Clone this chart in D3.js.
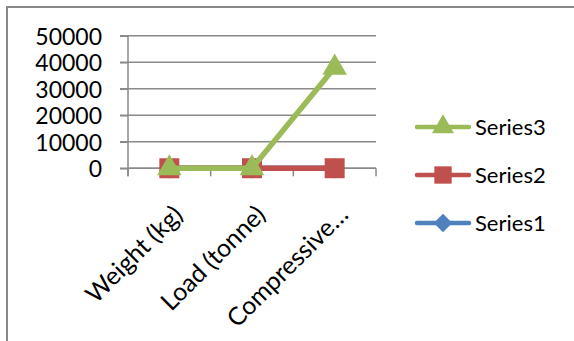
<!DOCTYPE html>
<html>
<head>
<meta charset="utf-8">
<script src="https://cdn.jsdelivr.net/npm/d3@7"></script>
<style>
  html, body { margin: 0; padding: 0; background: #fff; }
  svg { display: block; }
  text { font-family: Lato, "Open Sans", "Liberation Sans", sans-serif; fill: #000; }
</style>
</head>
<body>
<svg id="chart" width="574" height="341"></svg>
<script>
// Chart data
const categories = ["Weight (kg)", "Load (tonne)", "Compressive…"];
const series1 = [8, 24, 22];
const series2 = [9, 26, 25];
const series3 = [10, 28, 38000];
const seriesNames = ["Series1", "Series2", "Series3"];
const yTicks = [0, 10000, 20000, 30000, 40000, 50000];

const colors = { Series1: "#4F81BD", Series2: "#C0504D", Series3: "#9BBB59" };
const seriesData = [series1, series2, series3];

const svg = d3.select("#chart");
const W = 574, H = 341;

// Chart frame
svg.append("path")
  .attr("d", `M7,${H + 2} V7 H${W + 2}`)
  .attr("fill", "none")
  .attr("stroke", "#888")
  .attr("stroke-width", 2);

const plot = { left: 128, right: 376, top: 35.8, bottom: 168.3 };

const x = d3.scaleBand().domain(categories).range([plot.left, plot.right]);
const y = d3.scaleLinear().domain([0, 50000]).range([plot.bottom, plot.top]);
const cx = c => x(c) + x.bandwidth() / 2;

// Horizontal gridlines
svg.append("g")
  .selectAll("line")
  .data(yTicks)
  .join("line")
  .attr("x1", plot.left - 8)
  .attr("x2", plot.right)
  .attr("y1", d => y(d))
  .attr("y2", d => y(d))
  .attr("stroke", "#8a8a8a")
  .attr("stroke-width", 1.5);

// Y axis
const yAxis = svg.append("g")
  .attr("transform", `translate(${plot.left},0)`)
  .call(d3.axisLeft(y).tickValues(yTicks).tickSize(8).tickPadding(18).tickFormat(d3.format("d")));
yAxis.select(".domain").attr("stroke", "#8a8a8a").attr("stroke-width", 1.5)
  .attr("d", `M0,${plot.top} V${plot.bottom + 8}`);
yAxis.selectAll(".tick line").attr("stroke", "#8a8a8a").attr("stroke-width", 1.5);
yAxis.selectAll(".tick text")
  .attr("font-size", 23)
  .attr("font-family", "Lato, 'Open Sans', sans-serif")
  .attr("fill", "#000")
  .attr("dy", "0.36em");

// X axis with category boundary ticks
const xAxis = svg.append("g").attr("transform", `translate(0,${plot.bottom})`);
xAxis.append("line")
  .attr("x1", plot.left).attr("x2", plot.right)
  .attr("stroke", "#8a8a8a").attr("stroke-width", 1.5);
const bounds = categories.map(c => x(c)).concat([x(categories[categories.length - 1]) + x.bandwidth()]);
xAxis.selectAll("line.tk")
  .data(bounds)
  .join("line")
  .attr("class", "tk")
  .attr("x1", d => d).attr("x2", d => d)
  .attr("y1", 0).attr("y2", 8)
  .attr("stroke", "#8a8a8a").attr("stroke-width", 1.5);

// Rotated category labels
xAxis.selectAll("text")
  .data(categories)
  .join("text")
  .attr("transform", c => `translate(${cx(c) + 15},${48}) rotate(-45)`)
  .attr("text-anchor", "end")
  .attr("font-size", 25)
  .text(c => c);

// Marker shapes
const markerPath = {
  Series1: d3.symbol(d3.symbolSquare, 210)(),
  Series2: d3.symbol(d3.symbolSquare, 400)(),
  Series3: d3.symbol(d3.symbolTriangle, 260)()
};
const markerTransform = name => name === "Series1" ? "rotate(45)" : "";

// Series lines and markers
const line = d3.line().x((d, i) => cx(categories[i])).y(d => y(d));
seriesNames.forEach((name, si) => {
  const vals = seriesData[si];
  const g = svg.append("g");
  g.append("path")
    .datum(vals)
    .attr("d", line)
    .attr("fill", "none")
    .attr("stroke", colors[name])
    .attr("stroke-width", 5.5)
    .attr("stroke-linejoin", "round");
  g.selectAll("path.m")
    .data(vals)
    .join("path")
    .attr("class", "m")
    .attr("d", markerPath[name])
    .attr("transform", (d, i) => `translate(${cx(categories[i])},${y(d)}) ${markerTransform(name)}`)
    .attr("fill", colors[name]);
});

// Legend
const legendNames = ["Series3", "Series2", "Series1"];
const legendY = d3.scalePoint().domain(legendNames).range([127, 223]);
const legend = svg.append("g");
legendNames.forEach(name => {
  const ly = legendY(name);
  legend.append("line")
    .attr("x1", 417).attr("x2", 469)
    .attr("y1", ly).attr("y2", ly)
    .attr("stroke", colors[name])
    .attr("stroke-width", 4.5)
    .attr("stroke-linecap", "round");
  const size = { Series1: 170, Series2: 300, Series3: 210 }[name];
  const sym = name === "Series3" ? d3.symbolTriangle : d3.symbolSquare;
  legend.append("path")
    .attr("d", d3.symbol(sym, size)())
    .attr("transform", `translate(443,${ly}) ${markerTransform(name)}`)
    .attr("fill", colors[name]);
  legend.append("text")
    .attr("x", 475)
    .attr("y", ly)
    .attr("dy", "0.36em")
    .attr("font-size", 22)
    .text(name);
});
</script>
</body>
</html>
